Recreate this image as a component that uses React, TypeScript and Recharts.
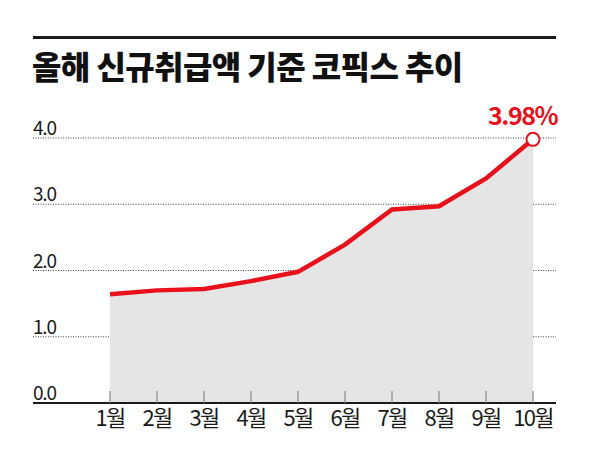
import React from 'react';
import {
  ComposedChart, Area, Line, XAxis, YAxis, CartesianGrid,
} from 'recharts';

const MONTHS = ['1월', '2월', '3월', '4월', '5월', '6월', '7월', '8월', '9월', '10월'];
const COFIX = [1.64, 1.70, 1.72, 1.84, 1.98, 2.39, 2.92, 2.97, 3.39, 3.98];
const Y_TICKS = [0, 1, 2, 3, 4];
const TITLE = '올해 신규취급액 기준 코픽스 추이';

const RED = '#e8101a';
const FONT = '"Noto Sans CJK KR", "Noto Sans", sans-serif';

const data = MONTHS.map((name, i) => ({ name, value: COFIX[i] }));

function XTick({ x, y, payload }: any) {
  return (
    <g>
      <line x1={x} x2={x} y1={y - 12} y2={y} stroke="#888" strokeWidth={1.2} />
      <text x={x} y={y + 23} textAnchor="middle" fontSize={22} letterSpacing={-1.8}
        fontFamily={FONT} fill="#1a1a1a">{payload.value}</text>
    </g>
  );
}

function YTick({ x, y, payload }: any) {
  return (
    <text x={x} y={y - 3} textAnchor="start" fontSize={19} letterSpacing={-1.2}
      fontFamily={FONT} fill="#1a1a1a">{Number(payload.value).toFixed(1)}</text>
  );
}

function EndDot({ cx, cy, index }: any) {
  if (index !== COFIX.length - 1) return null;
  return <circle cx={cx} cy={cy} r={6.5} fill="#fff" stroke={RED} strokeWidth={2} />;
}

function EndLabel({ x, y, index }: any) {
  if (index !== COFIX.length - 1) return null;
  return (
    <text x={x + 24} y={y - 14} textAnchor="end" fontSize={25} letterSpacing={-1.5}
      fontFamily={FONT} fontWeight={600} fill={RED}>{COFIX[index].toFixed(2)}%</text>
  );
}

export default function App() {
  return (
    <div style={{ position: 'relative', width: 596, height: 464, background: '#fff', margin: -8 }}>
      <div style={{ position: 'absolute', left: 33, top: 36, width: 523, height: 2.5, background: '#1a1a1a' }} />
      <div style={{
        position: 'absolute', left: 32, top: 42, fontFamily: FONT, fontWeight: 900,
        fontSize: 32, letterSpacing: -0.6, color: '#111', whiteSpace: 'nowrap',
      }}>{TITLE}</div>
      <ComposedChart width={596} height={464} data={data}
        margin={{ top: 138, right: 40, bottom: 21, left: 3 }}
        style={{ position: 'absolute', left: 0, top: 0 }}>
        <CartesianGrid horizontal vertical={false} stroke="#444" strokeDasharray="1 1.5" />
        <YAxis domain={[0, 4]} ticks={Y_TICKS} width={30} axisLine={false} tickLine={false}
          tickSize={0} tickMargin={0} tick={<YTick />} />
        <XAxis dataKey="name" height={40} padding={{ left: 77, right: 23 }}
          axisLine={{ stroke: '#1a1a1a', strokeWidth: 2 }} tickLine={false}
          tickSize={0} tickMargin={0} interval={0} tick={<XTick />} />
        <Area dataKey="value" type="linear" fill="#e5e5e5" fillOpacity={1} stroke="none"
          isAnimationActive={false} />
        <Line dataKey="value" type="linear" stroke={RED} strokeWidth={4.5}
          dot={<EndDot />} activeDot={false} label={<EndLabel />}
          isAnimationActive={false} />
      </ComposedChart>
    </div>
  );
}
